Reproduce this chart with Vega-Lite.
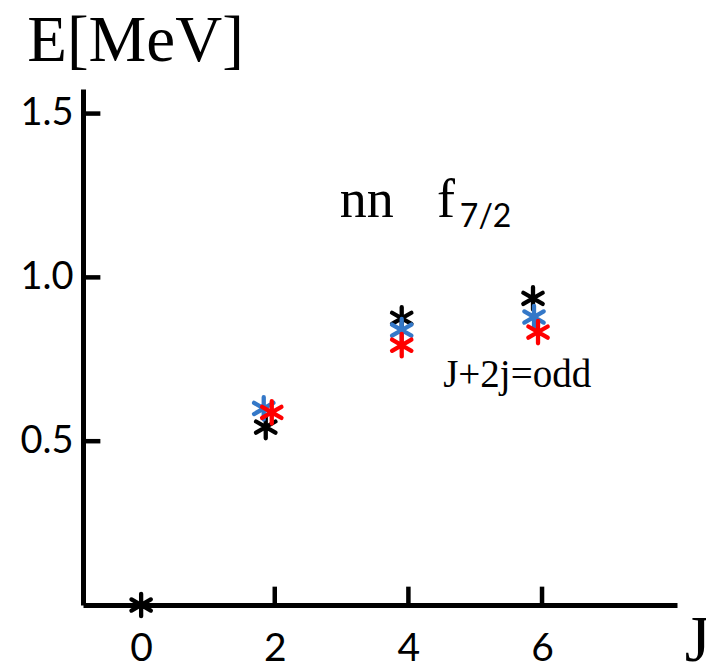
{
  "$schema": "https://vega.github.io/schema/vega-lite/v6.json",
  "width": 594,
  "height": 516,
  "autosize": {"type": "none"},
  "padding": {"left": 83, "top": 89, "right": 29, "bottom": 62},
  "background": "white",
  "config": {"view": {"stroke": null}},
  "layer": [
    {
      "data": {"values": [
        {"J": 0, "E": 0, "series": "black"},
        {"J": 1.865, "E": 0.543, "series": "black"},
        {"J": 3.9, "E": 0.875, "series": "black"},
        {"J": 5.865, "E": 0.936, "series": "black"},
        {"J": 1.835, "E": 0.6, "series": "blue"},
        {"J": 3.9, "E": 0.839, "series": "blue"},
        {"J": 5.88, "E": 0.879, "series": "blue"},
        {"J": 1.955, "E": 0.588, "series": "red"},
        {"J": 3.9, "E": 0.793, "series": "red"},
        {"J": 5.94, "E": 0.833, "series": "red"}
      ]},
      "mark": {"type": "point", "shape": "M0,-1L0,1M-0.866,-0.5L0.866,0.5M-0.866,0.5L0.866,-0.5", "filled": false, "strokeWidth": 4.3, "size": 500, "opacity": 1, "strokeCap": "round"},
      "encoding": {
        "x": {"field": "J", "type": "quantitative",
          "scale": {"domain": [-0.87, 8.02], "nice": false, "zero": false},
          "axis": {"values": [0, 2, 4, 6], "format": "d", "grid": false,
            "domainColor": "black", "domainWidth": 5, "ticks": false,
            "labelFont": "Lato", "labelFontSize": 39, "labelColor": "black", "labelPadding": 24,
            "title": "J", "titleFont": "Liberation Serif", "titleFontSize": 66, "titleFontWeight": "normal", "titleColor": "black",
            "titleX": 614, "titleY": 55, "titleBaseline": "alphabetic", "titleAlign": "center"}},
        "y": {"field": "E", "type": "quantitative",
          "scale": {"domain": [0, 1.575], "nice": false},
          "axis": {"values": [0.5, 1.0, 1.5], "format": ".1f", "grid": false,
            "domainColor": "black", "domainWidth": 5, "ticks": false,
            "labelFont": "Lato", "labelFontSize": 38, "labelColor": "black", "labelPadding": 10,
            "title": "E[MeV]", "titleFont": "Liberation Serif", "titleFontSize": 65, "titleFontWeight": "normal", "titleColor": "black",
            "titleAngle": 0, "titleX": 52, "titleY": -29, "titleBaseline": "alphabetic", "titleAlign": "center"}},
        "color": {"field": "series", "type": "nominal",
          "scale": {"domain": ["black", "blue", "red"], "range": ["#000000", "#3478c8", "#ff0000"]},
          "legend": null}
      }
    },
    {
      "data": {"values": [{"tick": 2}, {"tick": 4}, {"tick": 6}]},
      "mark": {"type": "rule", "color": "black", "strokeWidth": 4.5, "opacity": 1},
      "encoding": {
        "x": {"field": "tick", "type": "quantitative"},
        "y": {"datum": 0, "type": "quantitative"},
        "y2": {"datum": 0.056}
      }
    },
    {
      "data": {"values": [{"level": 0.5}, {"level": 1.0}, {"level": 1.5}]},
      "mark": {"type": "rule", "color": "black", "strokeWidth": 4.5, "opacity": 1},
      "encoding": {
        "y": {"field": "level", "type": "quantitative"},
        "x": {"datum": -0.87, "type": "quantitative"},
        "x2": {"datum": -0.61}
      }
    },
    {
      "mark": {"type": "point", "shape": "M0,-0.6L1,1.2L-1,1.2Z", "filled": true, "color": "black", "size": 400, "opacity": 1},
      "encoding": {"x": {"datum": -0.87, "type": "quantitative"}, "y": {"datum": 1.575, "type": "quantitative"}}
    },
    {
      "mark": {"type": "point", "shape": "M0.6,0L-1.2,-0.9L-1.2,0.9Z", "filled": true, "color": "black", "size": 400, "opacity": 1},
      "encoding": {"x": {"datum": 8.02, "type": "quantitative"}, "y": {"datum": 0, "type": "quantitative"}}
    },
    {
      "data": {"values": [
        {"J": 2.974, "E": 1.184, "label": "nn"},
        {"J": 4.427, "E": 1.184, "label": "f"}
      ]},
      "mark": {"type": "text", "font": "Liberation Serif", "fontSize": 54, "align": "left", "baseline": "alphabetic", "color": "black"},
      "encoding": {"x": {"field": "J", "type": "quantitative"}, "y": {"field": "E", "type": "quantitative"}, "text": {"field": "label"}}
    },
    {
      "data": {"values": [{"J": 4.77, "E": 1.153, "label": "7/2"}]},
      "mark": {"type": "text", "font": "Lato", "fontSize": 32, "align": "left", "baseline": "alphabetic", "color": "black"},
      "encoding": {"x": {"field": "J", "type": "quantitative"}, "y": {"field": "E", "type": "quantitative"}, "text": {"field": "label"}}
    },
    {
      "data": {"values": [{"J": 4.52, "E": 0.665, "label": "J+2j=odd"}]},
      "mark": {"type": "text", "font": "Liberation Serif", "fontSize": 39, "align": "left", "baseline": "alphabetic", "color": "black"},
      "encoding": {"x": {"field": "J", "type": "quantitative"}, "y": {"field": "E", "type": "quantitative"}, "text": {"field": "label"}}
    }
  ]
}
